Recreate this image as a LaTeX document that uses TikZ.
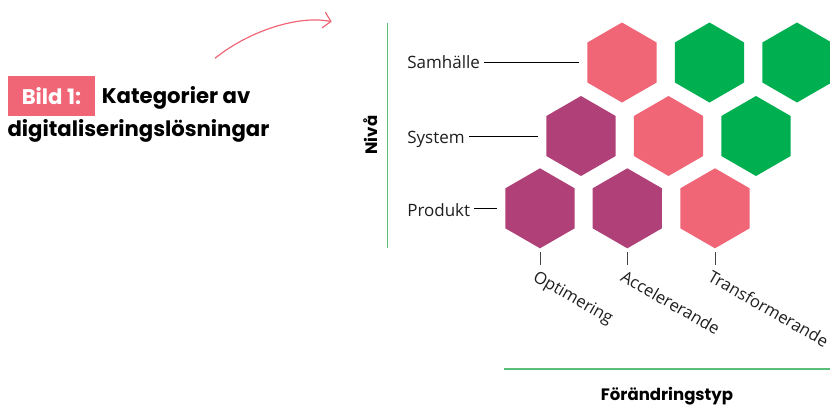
\documentclass[tikz,border=0pt]{standalone}
\usepackage{fontspec}
\setmainfont{Open Sans}
\newfontfamily\titlefont{Poppins}
\usetikzlibrary{shapes.geometric,arrows.meta}
\definecolor{hpink}{RGB}{240,102,118}
\definecolor{hpurple}{RGB}{176,64,120}
\definecolor{hgreen}{RGB}{0,176,80}
\definecolor{axisgreen}{RGB}{90,190,120}
\definecolor{tickgray}{RGB}{70,70,70}
\definecolor{labtext}{RGB}{30,30,30}
\begin{document}
\begin{tikzpicture}[x=0.75pt,y=-0.75pt,
  hex/.style={regular polygon, regular polygon sides=6, shape border rotate=30,
    minimum size=60pt, inner sep=0pt, draw=none},
  lvl/.style={font=\fontsize{12.75}{15}\selectfont, text=labtext, inner sep=3pt, anchor=base west},
  lvlline/.style={line width=0.75pt, black, shorten >=5.8pt},
  tickline/.style={line width=0.75pt, tickgray},
  rotlab/.style={rotate=-30, anchor=base west, inner sep=0pt, text=labtext,
    font=\fontsize{12.5}{15}\selectfont},
  axisline/.style={line width=1pt, axisgreen},
  boldlab/.style={font=\titlefont\bfseries\fontsize{12.4}{14}\selectfont, inner sep=0pt},
  titletext/.style={font=\titlefont\bfseries\fontsize{15.9}{20}\selectfont, inner sep=0pt}]
\useasboundingbox (0,0) rectangle (830,405);

% hexagons
\node[hex, fill=hpink]   (t1) at (622,62.5) {};
\node[hex, fill=hgreen]  (t2) at (709.5,62.5) {};
\node[hex, fill=hgreen]  (t3) at (797,62.5) {};
\node[hex, fill=hpurple] (m1) at (581,136) {};
\node[hex, fill=hpink]   (m2) at (668.5,136) {};
\node[hex, fill=hgreen]  (m3) at (756,136) {};
\node[hex, fill=hpurple] (b1) at (540,208.3) {};
\node[hex, fill=hpurple] (b2) at (627.3,208.3) {};
\node[hex, fill=hpink]   (b3) at (715,208.3) {};

% level labels
\node[lvl] (sam) at (403,68.3) {Samhälle};
\node[lvl] (sys) at (403,143.3) {System};
\node[lvl] (pro) at (403,216.7) {Produkt};
\draw[lvlline] (sam.east |- t1) -- (t1.west);
\draw[lvlline] (sys.east |- m1) -- (m1.west);
\draw[lvlline] (pro.east |- b1) -- (b1.west);

% ticks
\draw[tickline] ([yshift=-2.55pt]b1.south) -- ([yshift=-12.5pt]b1.south);
\draw[tickline] ([yshift=-2.55pt]b2.south) -- ([yshift=-12.5pt]b2.south);
\draw[tickline] ([yshift=-2.55pt]b3.south) -- ([yshift=-12.5pt]b3.south);

% change-type labels
\node[rotlab] (opt) at (532,280) {Optimering};
\node[rotlab] (acc) at (619.3,280) {Accelererande};
\node[rotlab] (tra) at (706.7,280) {Transformerande};

% axes
\coordinate (va) at (387.3,22.7);
\coordinate (vb) at (387.3,248.3);
\draw[axisline] (va) -- (vb);
\node[boldlab, rotate=90] (niva) at (370.5,135) {Nivå};
\coordinate (ha) at (504,369);
\coordinate (hb) at (830,369);
\draw[axisline] (ha) -- (hb);
\node[boldlab, anchor=base] (forand) at (667,400.5) {Förändringstyp};

% title
\node[titletext, fill=hpink, text=white, minimum width=65.8pt, minimum height=30pt,
  anchor=north west] (bild) at (7.3,76) {Bild 1:};
\node[titletext, anchor=base west] (kat) at (101.7,103.3) {Kategorier av};
\node[titletext, anchor=base west] (dig) at (7.3,136.7) {digitaliseringslösningar};

% arrow
\coordinate (a0) at (215,58.3);
\coordinate (a1) at (331.7,21.7);
\draw[hpink, line width=0.9pt, -{Straight Barb[length=5.5pt,width=12pt]}]
  (a0) .. controls (250,30) and (300,15) .. (a1);
\end{tikzpicture}
\end{document}
